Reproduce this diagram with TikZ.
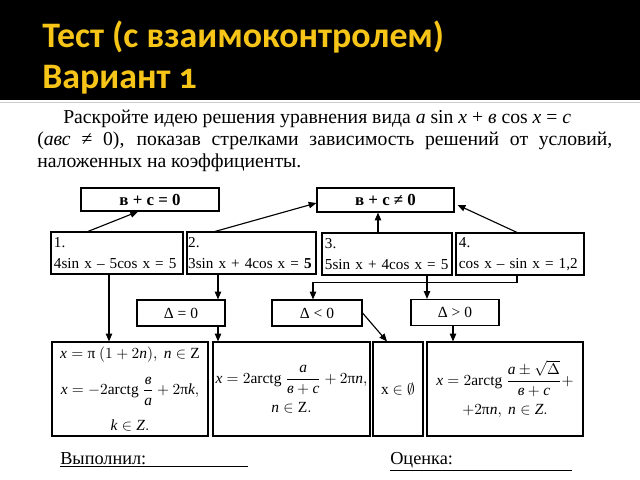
\documentclass[tikz,border=0pt]{standalone}
\usepackage{amsmath}
\usepackage{fontspec}
\setmainfont{Liberation Serif}
\newfontfamily\titlefont[Numbers=OldStyle]{Carlito}
\usetikzlibrary{arrows.meta}
\definecolor{titleyellow}{RGB}{247,196,24}
\newcommand{\vi}[1]{\text{\itshape #1}}

\begin{document}
\begin{tikzpicture}[x=0.025cm, y=-0.025cm,
    box/.style={draw, line width=0.8pt, inner sep=0pt, font=\fontsize{11}{14}\selectfont},
    eqbox/.style={box, minimum height=1.05cm, align=left, inner xsep=0.075cm, font=\fontsize{10.8}{15}\selectfont},
    dbox/.style={box, minimum width=2.2cm, minimum height=0.65cm, font=\fontsize{11}{13}\selectfont},
    solbox/.style={box, minimum height=2.35cm, align=center},
    arr/.style={-{Triangle[length=5.5pt,width=4.5pt]}, line width=0.8pt}]
    \fill[white] (0,0) rectangle (640,480);
    \useasboundingbox (0,0) rectangle (640,480);
    \fill[black] (0,0) rectangle (640,100);
    \draw[gray!40, line width=1.2pt] (0,102.5) -- (640,102.5);

    % title
    \node[anchor=base west, inner sep=0pt, text=titleyellow, font=\titlefont\bfseries\fontsize{25.5}{28}\selectfont] (title1) at (42,47) {Тест (с взаимоконтролем)};
    \node[anchor=base west, inner sep=0pt, text=titleyellow, font=\titlefont\bfseries\fontsize{25.5}{28}\selectfont] (title2) at (42,88) {Вариант 1};

    % task
    \node[anchor=north west, inner sep=0pt, text width=14.375cm, align=justify, font=\fontsize{14}{15.6}\selectfont] (task) at (37,110) {\hspace*{0.65cm}Раскройте идею решения уравнения вида \textit{a} sin \textit{x} + \textit{в} cos \textit{x} = \textit{c}\\
    (\textit{авс} ≠ 0), показав стрелками зависимость решений от условий,\linebreak
    наложенных на коэффициенты.};

    % conditions
    \node[box, minimum width=3.45cm, minimum height=0.575cm, font=\bfseries\fontsize{12}{15}\selectfont] (bc0) at (150,199.5) {в + с = 0};
    \node[box, minimum width=3.425cm, minimum height=0.6cm, font=\bfseries\fontsize{12}{15}\selectfont] (bcn) at (385.5,200) {в + с ≠ 0};

    % equations
    \node[eqbox, text width=3.15cm] (e1) at (117,253) {1.\\4sin x -- 5cos x = 5};
    \node[eqbox, text width=3.165cm, inner xsep=0.03cm] (e2) at (251.5,253) {2.\\\mbox{3sin x + 4cos x = \textbf{5}}};
    \node[eqbox, text width=3.1cm] (e3) at (387,254) {3.\\5sin x + 4cos x = 5};
    \node[eqbox, text width=3.05cm] (e4) at (520,254) {4.\\cos x -- sin x = 1,2};

    % discriminant
    \node[dbox] (d0) at (181,313) {Δ = 0};
    \node[dbox, minimum width=2.25cm] (dm) at (317,313) {Δ < 0};
    \node[dbox] (dp) at (455,312.5) {Δ > 0};

    % solutions
    \node[solbox, minimum width=3.9cm] (s1) at (130,389) {$\vi{x} = \text{π}\ (1 + 2\vi{n}),\ \vi{n} \in \text{Z}$\\[9pt]
        $\vi{x} = -2\text{arctg}\ \dfrac{\vi{в}}{\vi{a}} + 2\text{π}\vi{k},$\\[9pt]
        $\vi{k} \in \vi{Z}.$};
    \node[solbox, minimum width=3.925cm] (s2) at (291.5,389) {$\vi{x} = 2\text{arctg}\ \dfrac{\vi{a}}{\vi{в} + \vi{c}} + 2\text{π}\vi{n},$\\[4pt]
        $\vi{n} \in \text{Z}.$};
    \node[solbox, minimum width=1.25cm] (s3) at (398,389) {x $\in \emptyset$};
    \node[solbox, minimum width=3.9cm] (s4) at (505,389) {$\vi{x} = 2\text{arctg}\ \dfrac{\vi{a} \pm \sqrt{\Delta}}{\vi{в} + \vi{c}} +$\\[4pt]
        $+2\text{π}\vi{n},\ \vi{n} \in \vi{Z}.$};

    % arrows up
    \draw[arr] ([xshift=-0.725cm]e1.north) -- ([xshift=-0.3cm]bc0.south);
    \draw[arr] ([xshift=-0.91cm]e2.north) -- ([yshift=-0.075cm]bcn.west);
    \draw[arr] ([xshift=-0.225cm]e3.north) -- ([xshift=-0.225cm]e3.north |- bcn.south);
    \draw[arr] ([xshift=-0.075cm]e4.north) -- ([xshift=0.075cm,yshift=-0.125cm]bcn.east);

    % arrows down
    \draw[arr] ([xshift=-0.2cm]e1.south) -- ([xshift=-0.2cm]e1.south |- s1.north);
    \draw[arr] ([xshift=-0.8375cm]e2.south) -- ([xshift=-0.8375cm]e2.south |- d0.north);
    \draw[arr] ([xshift=0.925cm]d0.south) -- ([xshift=0.925cm]d0.south |- s2.north);
    \draw[arr] ([xshift=1cm]e3.south) -- ([xshift=1cm]e3.south |- dp.north);
    \draw[arr] ([xshift=-0.075cm]e4.south) -- ++(0,7) -| ([xshift=-0.1cm]dm.north);
    \draw[arr] (dm.east) -- ([xshift=-0.275cm]s3.north);
    \draw[arr] ([xshift=-0.05cm]dp.south) -- ([xshift=-0.05cm]dp.south |- s4.north);

    % signatures
    \node[anchor=base west, inner sep=0pt, font=\fontsize{13}{15}\selectfont] (done) at (60,464) {\underline{\makebox[4.7cm][l]{Выполнил:}}};
    \node[anchor=base west, inner sep=0pt, font=\fontsize{13}{15}\selectfont] (mark) at (390,464) {\underline{\makebox[4.55cm][l]{Оценка:}}};
\end{tikzpicture}
\end{document}
